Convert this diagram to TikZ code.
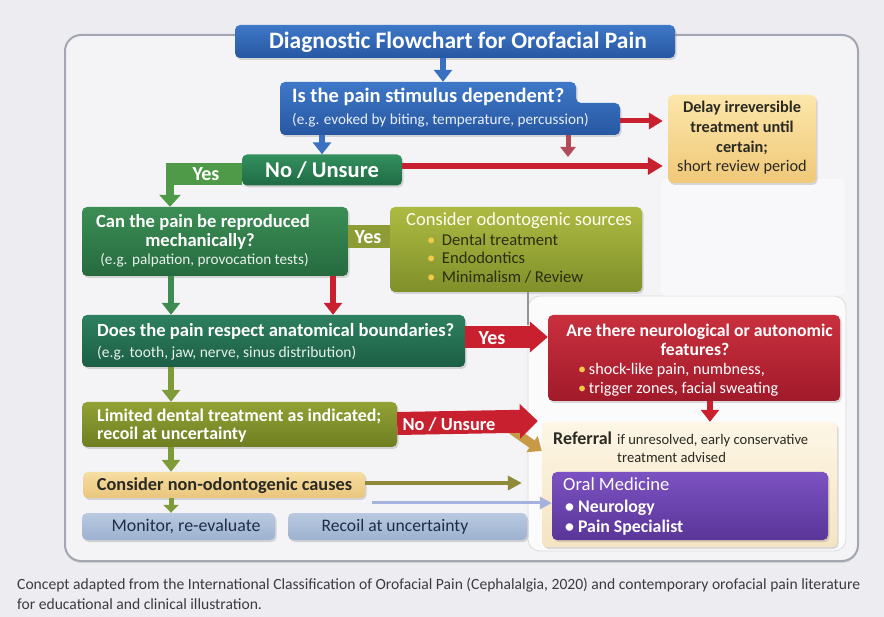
\documentclass[tikz,border=0pt]{standalone}
\usepackage{fontspec}
\setmainfont{Carlito}
\usetikzlibrary{arrows.meta,shadows}
\definecolor{bgc}{HTML}{EDEDF1}
\definecolor{framefill}{HTML}{F4F4F7}
\definecolor{framedraw}{HTML}{A3A7B2}
\definecolor{blueA}{HTML}{3E78C8}
\definecolor{blueB}{HTML}{2757A2}
\definecolor{greenA}{HTML}{33905E}
\definecolor{greenB}{HTML}{1F6B44}
\definecolor{q2A}{HTML}{3C8E55}
\definecolor{q2B}{HTML}{256A3E}
\definecolor{q3A}{HTML}{2D8060}
\definecolor{q3B}{HTML}{1C5E45}
\definecolor{odA}{HTML}{ADBA42}
\definecolor{odB}{HTML}{80902A}
\definecolor{q4A}{HTML}{92A235}
\definecolor{q4B}{HTML}{6E7E22}
\definecolor{tanA}{HTML}{F6DEA2}
\definecolor{tanB}{HTML}{E9C57C}
\definecolor{delA}{HTML}{FCE6AA}
\definecolor{delB}{HTML}{F0C878}
\definecolor{redA}{HTML}{C9303E}
\definecolor{redB}{HTML}{A11A2A}
\definecolor{refA}{HTML}{FDF6E6}
\definecolor{refB}{HTML}{F5E4C2}
\definecolor{purA}{HTML}{7C52C2}
\definecolor{purB}{HTML}{5A3598}
\definecolor{monA}{HTML}{B9C9E0}
\definecolor{monB}{HTML}{9DB2D0}
\definecolor{arrred}{HTML}{C8202E}
\definecolor{arrredm}{HTML}{B24A58}
\definecolor{arrblue}{HTML}{3A70C0}
\definecolor{arrgreen}{HTML}{3E8A50}
\definecolor{arrlgreen}{HTML}{4E9A48}
\definecolor{arrolive}{HTML}{7F9A38}
\definecolor{arrolive2}{HTML}{8F8A3A}
\definecolor{arrgold}{HTML}{C99A45}
\definecolor{arrperi}{HTML}{A6B2DE}
\definecolor{bandolive}{HTML}{8E9C36}
\definecolor{darktxt}{HTML}{2A2A22}
\definecolor{oltxt}{HTML}{2C2E12}
\definecolor{navytxt}{HTML}{1F2D4A}
\definecolor{yel}{HTML}{F2C94C}
\definecolor{captxt}{HTML}{3C3C40}
\newcommand\fsz[1]{\fontsize{#1}{#1}\selectfont}
\begin{document}
\begin{tikzpicture}[x=1pt,y=-1pt,
  box/.style={rounded corners=5pt, inner sep=0pt,
    drop shadow={shadow xshift=1.5pt, shadow yshift=-2pt, opacity=0.28}},
  anchorbox/.style={inner sep=0pt, draw=none, fill=none},
  lw/.style={inner sep=0pt, anchor=base west},
  lc/.style={inner sep=0pt, anchor=base},
  thin arrow/.style={line width=6pt, -{Triangle[width=18pt,length=12pt]}},
  lbl/.style={inner sep=0pt, text=white, font=\fsz{20}\bfseries}
]
\useasboundingbox (0,0) rectangle (884,617);
\fill[bgc] (0,0) rectangle (884,617);
% outer frame
\filldraw[fill=framefill, draw=framedraw, line width=2pt, rounded corners=16pt,
  drop shadow={shadow xshift=0pt, shadow yshift=-2pt, opacity=0.2}]
  (65,35) rectangle (858,561);
% right panels
\filldraw[fill=white, fill opacity=0.7, draw=black!14, line width=0.8pt, rounded corners=12pt]
  (528,296) rectangle (846,551);
\filldraw[fill=white, fill opacity=0.45, draw=black!6, line width=0.6pt, rounded corners=6pt]
  (660,178) rectangle (846,296);

% ---------- boxes ----------
\node[box, top color=blueA, bottom color=blueB, minimum width=440pt, minimum height=33pt] (title) at (455,41.5) {};
\path[top color=blueA, bottom color=blueB, rounded corners=5pt,
  drop shadow={shadow xshift=1.5pt, shadow yshift=-2pt, opacity=0.28}]
  (280,82) -- (576,82) -- (576,103) -- (620,103) -- (620,135) -- (280,135) -- cycle;
\node[anchorbox, minimum width=340pt, minimum height=53pt] (q1) at (450,108.5) {};
\node[box, top color=greenA, bottom color=greenB, minimum width=160pt, minimum height=31pt,
  text=white, font=\fsz{22.5}\bfseries] (nu) at (322,170) {No / Unsure};
\node[box, top color=delA, bottom color=delB, minimum width=148pt, minimum height=88pt] (delay) at (742,139) {};
\node[box, top color=q2A, bottom color=q2B, minimum width=266pt, minimum height=69pt] (q2) at (215,241.5) {};
\node[box, top color=odA, bottom color=odB, minimum width=252pt, minimum height=85pt] (od) at (516,249.5) {};
\node[box, top color=q3A, bottom color=q3B, minimum width=383pt, minimum height=52pt] (q3) at (273.5,341) {};
\node[box, top color=redA, bottom color=redB, minimum width=292pt, minimum height=86pt] (neuro) at (694,358) {};
\node[box, top color=refA, bottom color=refB, minimum width=295pt, minimum height=125pt] (ref) at (689.5,484.5) {};
\node[box, top color=purA, bottom color=purB, minimum width=276pt, minimum height=68pt] (purp) at (690,506) {};
\node[box, top color=q4A, bottom color=q4B, minimum width=315pt, minimum height=45pt] (q4) at (239.5,424.5) {};
\node[box, top color=tanA, bottom color=tanB, minimum width=282pt, minimum height=26pt] (cons) at (224,485) {};
\node[box, top color=monA, bottom color=monB, minimum width=193pt, minimum height=27pt] (mon) at (178.5,526.5) {};
\node[box, top color=monA, bottom color=monB, minimum width=239pt, minimum height=27pt] (rec) at (407.5,526.5) {};

% ---------- texts ----------
\node[lc, text=white, font=\fsz{23.5}\bfseries] (titlet) at (458,48.5) {Diagnostic Flowchart for Orofacial Pain};
\node[lw, text=white, font=\fsz{20.5}\bfseries] (q1a) at (292,103) {Is the pain stimulus dependent?};
\node[lw, text=white!88!blueA, font=\fsz{15.2}] (q1b) at (292,124.5) {(e.g. evoked by biting, temperature, percussion)};

\node[lc, text=darktxt, font=\fsz{16.3}\bfseries] (d1) at (742,113) {Delay irreversible};
\node[lc, text=darktxt, font=\fsz{16.3}\bfseries] (d2) at (742,133) {treatment until};
\node[lc, text=darktxt, font=\fsz{16.3}\bfseries] (d3) at (742,152.5) {certain;};
\node[lc, text=darktxt, font=\fsz{16.3}] (d4) at (742,172) {short review period};

\node[lc, text=white, font=\fsz{18.6}\bfseries] (q2a) at (203,228) {Can the pain be reproduced};
\node[lc, text=white, font=\fsz{18.6}\bfseries] (q2b) at (200,246.5) {mechanically?};
\node[lc, text=white!88!q2A, font=\fsz{15.2}] (q2c) at (204.5,265) {(e.g. palpation, provocation tests)};

\node[lw, text=white!95!yellow, font=\fsz{18.5}] (oda) at (406,226) {Consider odontogenic sources};
\node[lw, text=oltxt, font=\fsz{16.6}] (odb) at (427,245.5) {{\color{yel}\textbullet}\, Dental treatment};
\node[lw, text=oltxt, font=\fsz{16.6}] (odc) at (427,264) {{\color{yel}\textbullet}\, Endodontics};
\node[lw, text=oltxt, font=\fsz{16.6}] (odd) at (427,282.5) {{\color{yel}\textbullet}\, Minimalism / Review};

\node[lw, text=white, font=\fsz{18.6}\bfseries] (q3a) at (97,336.5) {Does the pain respect anatomical boundaries?};
\node[lw, text=white!88!q3A, font=\fsz{15.5}] (q3b) at (97,358) {(e.g. tooth, jaw, nerve, sinus distribution)};

\node[lc, text=white, font=\fsz{17.7}\bfseries] (n1) at (699.5,337) {Are there neurological or autonomic};
\node[lc, text=white, font=\fsz{17.7}\bfseries] (n2) at (695,355.5) {features?};
\node[lw, text=white, font=\fsz{16.2}] (n3) at (578,375) {{\color{yel}\textbullet}\,shock-like pain, numbness,};
\node[lw, text=white, font=\fsz{16.2}] (n4) at (578,393.5) {{\color{yel}\textbullet}\,trigger zones, facial sweating};

\node[lw, text=darktxt, font=\fsz{18}\bfseries] (r1) at (553,445) {Referral};
\node[lw, text=darktxt, font=\fsz{14.6}] (r2) at (617,445) {if unresolved, early conservative};
\node[lw, text=darktxt, font=\fsz{14.6}] (r3) at (617,463) {treatment advised};

\node[lw, text=white, font=\fsz{18.6}] (p1) at (563,491) {Oral Medicine};
\node[lw, text=white, font=\fsz{17.8}\bfseries] (p2) at (565,512) {\textbullet\ Neurology};
\node[lw, text=white, font=\fsz{17.8}\bfseries] (p3) at (565,532.5) {\textbullet\ Pain Specialist};

\node[lw, text=white, font=\fsz{17.9}\bfseries] (q4a) at (97,421.5) {Limited dental treatment as indicated;};
\node[lw, text=white, font=\fsz{17.9}\bfseries] (q4b) at (97,439.5) {recoil at uncertainty};

\node[lc, text=darktxt, font=\fsz{18.3}\bfseries] (consT) at (224.5,491) {Consider non-odontogenic causes};
\node[lc, text=navytxt, font=\fsz{17.9}] (monT) at (186,532) {Monitor, re-evaluate};
\node[lc, text=navytxt, font=\fsz{17.6}] (recT) at (395,532) {Recoil at uncertainty};

% ---------- connectors ----------
\coordinate (c1) at (568,157);
\coordinate (c2) at (528,325);
\coordinate (c3) at (512,430);
\coordinate (c4) at (372,503);
\coordinate (ye) at (166,174);

\draw[thin arrow, arrblue] (title.south -| 443,0) -- (q1.north -| 443,0);
\draw[thin arrow, arrblue] (nu.north |- q1.south) -- (nu.north);
\draw[thin arrow, arrred, line width=5pt, -{Triangle[width=16pt,length=14pt]}] (q1.east |- 0,121) -- ([xshift=-5pt]delay.west |- 0,121);
\draw[line width=5pt, arrredm, -{Triangle[width=15pt,length=10pt]}] (q1.south -| c1) -- (c1);
\draw[arrred, line width=6pt, -{Triangle[width=17pt,length=15pt]}] ([yshift=4pt]nu.east) -- ([xshift=-5pt,yshift=4pt]delay.west |- nu.east);

% Yes elbow
\draw[line width=22pt, arrlgreen] (nu.west |- ye) -- (ye);
\draw[line width=8pt, arrlgreen, -{Triangle[width=21pt,length=12pt]}] ([xshift=4pt,yshift=-6pt]ye) -- (q2.north -| 170,0);
\node[lbl] (yes1) at (206,174) {Yes};

% Q2 - od band
\draw[line width=23pt, bandolive] (q2.east |- 0,237) -- (od.west |- 0,237);
\node[lbl] (yes2) at (368,237) {Yes};

\draw[thin arrow, arrgreen] (q2.south -| 171,0) -- (q3.north -| 171,0);
\draw[thin arrow, arrred] (q2.south -| 333,0) -- (q3.north -| 333,0);
\draw[line width=2.2pt, black!42] (od.south -| c2) -- (c2);

% Q3 - neuro red band
\draw[line width=22pt, arrred, -{Triangle[width=30pt,length=18pt]}] (q3.east |- 0,337) -- (neuro.west |- 0,337);
\node[lbl] (yes3) at (492,338) {Yes};

\draw[thin arrow, arrolive] (q3.south -| 171,0) -- (q4.north -| 171,0);
\draw[thin arrow, arrred] (neuro.south -| 710,0) -- (ref.north -| 710,0);

% No / Unsure band
\draw[line width=9pt, arrgold, -{Triangle[width=19pt,length=12pt]}] (c3) -- (ref.west |- 0,451);
\draw[line width=23pt, arrred, -{Triangle[width=34pt,length=18pt]}] (q4.east |- 0,423.5) -- ([xshift=-4pt]ref.west |- 0,421);
\node[lbl, font=\fsz{18.4}\bfseries] (nu2) at (449,424) {No / Unsure};

\draw[thin arrow, arrolive] (q4.south -| 171,0) -- (cons.north -| 171,0);
\draw[line width=3.5pt, arrolive2, -{Triangle[width=14pt,length=14pt]}] (cons.east |- 0,483) -- ([xshift=-20pt]ref.west |- 0,483);
\draw[line width=3pt, arrperi, -{Triangle[width=12pt,length=12pt]}] (c4) -- (purp.west |- c4);
\draw[line width=5pt, arrolive, -{Triangle[width=15pt,length=8pt]}] (cons.south -| 171,0) -- (mon.north -| 171,0);

% caption
\node[lw, text=captxt, font=\fsz{15.6}] (cap1) at (17,589.5)
  {Concept adapted from the International Classification of Orofacial Pain (Cephalalgia, 2020) and contemporary orofacial pain literature};
\node[lw, text=captxt, font=\fsz{15.6}] (cap2) at (17,609.5) {for educational and clinical illustration.};
\end{tikzpicture}
\end{document}
